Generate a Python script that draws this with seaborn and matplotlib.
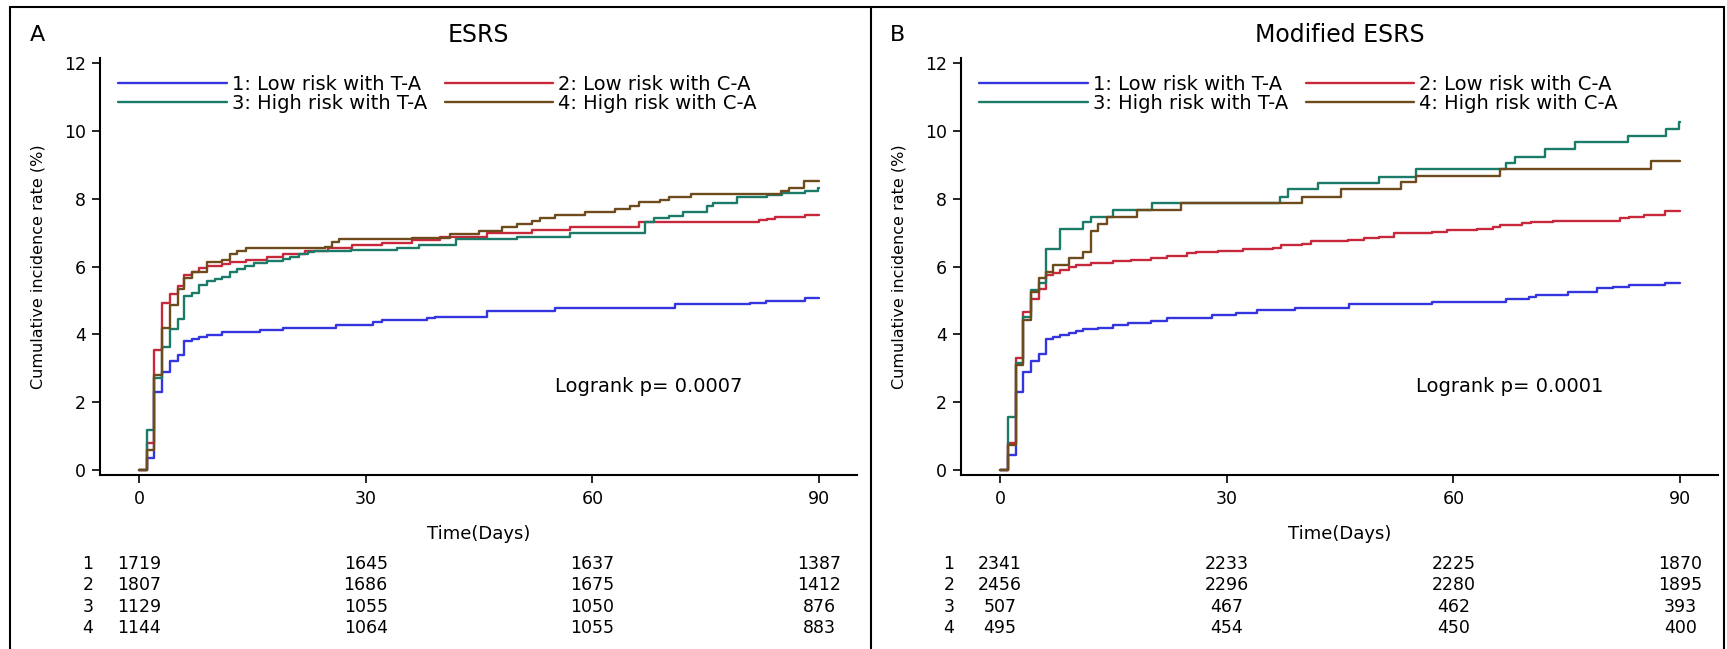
import matplotlib
matplotlib.use('Agg')
import matplotlib.pyplot as plt
import matplotlib.transforms as mtransforms
from matplotlib.lines import Line2D
import pandas as pd
import seaborn as sns

# ---- data ----
groups = ['1', '2', '3', '4']
legend_labels = ['1: Low risk with T-A', '2: Low risk with C-A',
                 '3: High risk with T-A', '4: High risk with C-A']
colors = ['#3535e0', '#c8283c', '#1b7a68', '#6e4b1c']
risk_days = [0, 30, 60, 90]

# Panel A: ESRS
esrs_t1 = [0, 1, 2, 3.1, 4.1, 5.1, 6, 7, 8, 9, 11, 16, 19.1, 26, 31, 32.2, 38.1, 39.2, 46, 55, 70.9, 80.9, 82.9, 88.1, 90]
esrs_v1 = [0, 0.35, 2.31, 2.9, 3.2, 3.39, 3.79, 3.87, 3.93, 3.98, 4.08, 4.13, 4.2, 4.28, 4.35, 4.41, 4.47, 4.52, 4.70, 4.77, 4.89, 4.93, 4.99, 5.06, 5.06]
esrs_t2 = [0, 1, 2, 3.1, 4.1, 5.1, 6, 7, 8, 9, 11, 12, 14.1, 17, 19, 22, 25, 28.2, 32.1, 36.1, 39.8, 46, 52, 57, 66.1, 82, 83.1, 84.2, 88.1, 90]
esrs_v2 = [0, 0.8, 3.54, 4.92, 5.19, 5.43, 5.74, 5.84, 5.95, 6.02, 6.07, 6.12, 6.18, 6.29, 6.37, 6.47, 6.54, 6.63, 6.69, 6.78, 6.86, 6.98, 7.08, 7.18, 7.30, 7.36, 7.41, 7.45, 7.51, 7.51]
esrs_t3 = [0, 1, 2, 3.1, 4.1, 5.1, 6, 7, 8, 9, 10, 11, 12, 13, 14, 15.2, 17, 19.1, 20, 21.2, 22.3, 23.2, 28, 34.1, 37, 42, 50, 57, 67, 68.1, 70.1, 72, 75.1, 76, 79.1, 83.1, 85.1, 88.1, 89.9, 90]
esrs_v3 = [0, 1.18, 2.70, 3.64, 4.16, 4.45, 5.13, 5.21, 5.46, 5.56, 5.62, 5.70, 5.85, 5.93, 6.03, 6.10, 6.15, 6.21, 6.29, 6.36, 6.42, 6.45, 6.50, 6.56, 6.64, 6.80, 6.88, 6.98, 7.30, 7.42, 7.50, 7.62, 7.79, 7.88, 8.06, 8.11, 8.18, 8.24, 8.33, 8.33]
esrs_t4 = [0, 1, 2, 3.1, 4.1, 5.1, 6, 7, 9, 11, 12, 13, 14.1, 24.6, 25.5, 26.4, 36.1, 41.2, 45, 48, 50, 52, 53.1, 55.1, 59, 63, 65, 66.1, 69, 70.1, 73, 85, 86, 88, 90]
esrs_v4 = [0, 0.6, 2.80, 4.20, 4.87, 5.33, 5.65, 5.85, 6.12, 6.19, 6.36, 6.46, 6.54, 6.59, 6.71, 6.80, 6.83, 6.96, 7.06, 7.16, 7.26, 7.35, 7.42, 7.52, 7.60, 7.69, 7.79, 7.89, 7.97, 8.06, 8.14, 8.22, 8.31, 8.51, 8.51]
esrs_risk = [[1719, 1645, 1637, 1387],
             [1807, 1686, 1675, 1412],
             [1129, 1055, 1050, 876],
             [1144, 1064, 1055, 883]]

# Panel B: Modified ESRS
mod_t1 = [0, 1.1, 2.1, 3.1, 4.1, 5.1, 6.1, 7, 8, 9.1, 10.1, 11, 13, 15, 17, 20, 22.1, 28, 31.2, 34, 39, 46.2, 57.1, 67, 70, 70.9, 75.1, 79, 81.1, 83.2, 88, 90]
mod_v1 = [0, 0.45, 2.31, 2.9, 3.2, 3.42, 3.85, 3.93, 3.98, 4.05, 4.1, 4.15, 4.2, 4.28, 4.33, 4.40, 4.47, 4.57, 4.64, 4.72, 4.77, 4.90, 4.94, 5.03, 5.09, 5.16, 5.26, 5.36, 5.41, 5.46, 5.51, 5.51]
mod_t2 = [0, 1.1, 2.1, 3.1, 4.1, 5.1, 6.1, 7, 8, 9.1, 10.1, 12, 15, 17.3, 20, 22.1, 24.7, 25.9, 28.9, 32.1, 36.1, 37.2, 40, 41.1, 46, 48.1, 50.1, 52.1, 57.1, 59.1, 63.1, 65.2, 66.1, 69.1, 70.2, 73.2, 82, 83.2, 85.2, 88, 90]
mod_v2 = [0, 0.79, 3.29, 4.67, 5.04, 5.33, 5.75, 5.82, 5.9, 6.0, 6.05, 6.1, 6.15, 6.2, 6.24, 6.30, 6.39, 6.44, 6.47, 6.51, 6.54, 6.64, 6.67, 6.74, 6.78, 6.83, 6.88, 6.98, 7.03, 7.08, 7.12, 7.17, 7.22, 7.27, 7.32, 7.35, 7.42, 7.47, 7.52, 7.65, 7.65]
mod_t3 = [0, 1.1, 2.1, 3.1, 4.1, 5.1, 6.1, 8, 11, 12, 15, 20.1, 37, 38.1, 42.1, 50.1, 55.1, 67, 68.1, 72.1, 76.1, 83.1, 88.1, 89.9, 90]
mod_v3 = [0, 1.57, 3.15, 4.52, 5.31, 5.51, 6.51, 7.10, 7.30, 7.47, 7.67, 7.87, 8.06, 8.28, 8.46, 8.65, 8.87, 9.05, 9.24, 9.46, 9.66, 9.85, 10.05, 10.27, 10.27]
mod_t4 = [0, 1.1, 2.1, 3.1, 4.1, 5.1, 6.1, 7, 9.1, 11, 12, 13, 14.1, 18.1, 24, 40, 45.1, 53, 55.1, 66.1, 86.1, 90]
mod_v4 = [0, 0.75, 3.1, 4.42, 5.26, 5.65, 5.85, 6.05, 6.24, 6.44, 7.05, 7.25, 7.45, 7.67, 7.87, 8.06, 8.28, 8.48, 8.67, 8.87, 9.1, 9.1]
mod_risk = [[2341, 2233, 2225, 1870],
            [2456, 2296, 2280, 1895],
            [507, 467, 462, 393],
            [495, 454, 450, 400]]


def to_long(curves):
    frames = []
    for g, (t, v) in zip(groups, curves):
        frames.append(pd.DataFrame({'time': t, 'rate': v, 'group': g}))
    return pd.concat(frames, ignore_index=True)


sns.set_style('ticks')
plt.rcParams['font.family'] = ['DejaVu Sans']
plt.rcParams.update({'text.color': 'black', 'axes.labelcolor': 'black',
                     'xtick.color': 'black', 'ytick.color': 'black',
                     'axes.edgecolor': 'black'})

W, H = 1727, 649
fig = plt.figure(figsize=(W / 100, H / 100), dpi=100)


def px_box(left, top, right, bottom):
    return [left / W, 1 - bottom / H, (right - left) / W, (bottom - top) / H]


panels = [
    dict(letter='A', letter_x=37, title='ESRS', p='Logrank p= 0.0007', risk=esrs_risk,
         box=(100, 58, 857, 474.7), row_x=88,
         curves=[(esrs_t1, esrs_v1), (esrs_t2, esrs_v2), (esrs_t3, esrs_v3), (esrs_t4, esrs_v4)]),
    dict(letter='B', letter_x=898, title='Modified ESRS', p='Logrank p= 0.0001', risk=mod_risk,
         box=(961, 58, 1718, 474.7), row_x=949,
         curves=[(mod_t1, mod_v1), (mod_t2, mod_v2), (mod_t3, mod_v3), (mod_t4, mod_v4)]),
]

row_y = [564, 585, 607, 628]

for pn in panels:
    ax = fig.add_axes(px_box(*pn['box']))
    df = to_long(pn['curves'])
    sns.lineplot(data=df, x='time', y='rate', hue='group', hue_order=groups,
                 palette=colors, drawstyle='steps-post', estimator=None,
                 linewidth=1.7, legend=False, ax=ax)
    ax.set_xlim(-5.16, 95.0)
    ax.set_ylim(-0.139, 12.15)
    ax.set_xticks(risk_days)
    ax.set_yticks(range(0, 13, 2))
    for s in ['top', 'right']:
        ax.spines[s].set_visible(False)
    for s in ['left', 'bottom']:
        ax.spines[s].set_linewidth(1.5)
    ax.tick_params(axis='both', length=5.8, width=1.2, labelsize=12.5, color='black')
    ax.tick_params(axis='y', pad=4.3)
    ax.tick_params(axis='x', pad=5)

    ax.set_xlabel('Time(Days)', fontsize=13)
    ax.xaxis.label.set_va('center')
    ax.xaxis.set_label_coords(0.5, (474.7 - 534) / 416.7)
    ax.set_ylabel('Cumulative incidence rate (%)', fontsize=11.5)
    ax.yaxis.label.set_va('center')
    ax.yaxis.label.set_ha('center')
    ax.yaxis.set_label_coords((38 - 100) / 757, 0.5)

    lines = ax.get_lines()
    ax.legend(handles=[lines[0], lines[2], lines[1], lines[3]],
              labels=[legend_labels[0], legend_labels[2], legend_labels[1], legend_labels[3]],
              ncol=2, frameon=False, loc='upper left',
              bbox_to_anchor=((118 - 100) / 757, (474.7 - 75) / 416.7),
              fontsize=14, handlelength=5.6, handletextpad=0.25,
              columnspacing=0.9, labelspacing=0.0, borderpad=0, borderaxespad=0)

    ax.text(55.1, 2.45, pn['p'], fontsize=14, va='center', ha='left')

    left, top, right, bottom = pn['box']
    fig.text(((left + right) / 2) / W, 1 - 35 / H, pn['title'], fontsize=17,
             ha='center', va='center')
    fig.text(pn['letter_x'] / W, 1 - 35 / H, pn['letter'], fontsize=16,
             ha='center', va='center')

    trans = mtransforms.blended_transform_factory(ax.transData, fig.transFigure)
    for i, row in enumerate(pn['risk']):
        y = 1 - row_y[i] / H
        fig.text(pn['row_x'] / W, y, groups[i], fontsize=12.5, ha='center', va='center')
        for d, n in zip(risk_days, row):
            ax.text(d, y, str(n), transform=trans, fontsize=12.5, ha='center',
                    va='center', clip_on=False)

# panel frames
frame_kw = dict(color='black', linewidth=1.5)
fig.add_artist(Line2D([10 / W, 10 / W], [0, 1 - 7 / H], **frame_kw))
fig.add_artist(Line2D([10 / W, 1724 / W], [1 - 7 / H, 1 - 7 / H], **frame_kw))
fig.add_artist(Line2D([871 / W, 871 / W], [0, 1 - 7 / H], **frame_kw))
fig.add_artist(Line2D([1724 / W, 1724 / W], [0, 1 - 7 / H], **frame_kw))

fig.savefig('out.png', dpi=100, facecolor='white')
